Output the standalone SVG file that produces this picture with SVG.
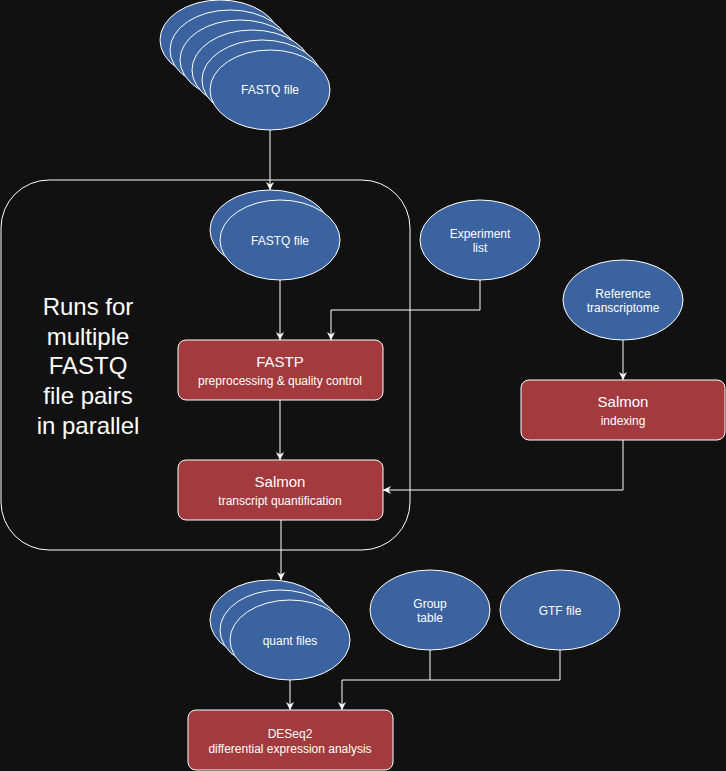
<svg xmlns="http://www.w3.org/2000/svg" width="726" height="771" viewBox="0 0 726 771">
<defs>
<style>
.el{fill:#3a63a0;stroke:#ffffff;stroke-width:1}
.bx{fill:#a33a3d;stroke:#ffffff;stroke-width:1}
.t{font-family:"Liberation Sans",Arial,sans-serif;fill:#ffffff;text-anchor:middle}
.s12{font-size:12px}
.s15{font-size:15px}
.sub{font-size:12px}
.big{font-size:24px}
.cn{fill:none;stroke:#ffffff;stroke-width:1}
</style>
<marker id="ah" markerWidth="10" markerHeight="10" refX="8" refY="4" orient="auto" markerUnits="userSpaceOnUse">
<path d="M0,0 L8,4 L0,8 L2.5,4 Z" fill="#ffffff"/>
</marker>
</defs>
<rect x="0" y="0" width="726" height="771" fill="#111111"/>

<g id="container">
<rect x="1" y="180" width="409" height="370" rx="48" ry="48" fill="none" stroke="#ffffff" stroke-width="1"/>
<text class="t big" x="88" y="315">Runs for</text>
<text class="t big" x="88" y="345">multiple</text>
<text class="t big" x="88" y="374">FASTQ</text>
<text class="t big" x="88" y="404">file pairs</text>
<text class="t big" x="88" y="434">in parallel</text>
</g>

<g id="connectors">
<path class="cn" d="M270,130 L270,190" marker-end="url(#ah)"/>
<path class="cn" d="M280,280 L280,340" marker-end="url(#ah)"/>
<path class="cn" d="M480,280 L480,310 L331,310 L331,340" marker-end="url(#ah)"/>
<path class="cn" d="M280,400 L280,460" marker-end="url(#ah)"/>
<path class="cn" d="M623,340 L623,380" marker-end="url(#ah)"/>
<path class="cn" d="M623,440 L623,490 L383,490" marker-end="url(#ah)"/>
<path class="cn" d="M281,520 L281,580" marker-end="url(#ah)"/>
<path class="cn" d="M290,680 L290,710" marker-end="url(#ah)"/>
<path class="cn" d="M430,650 L430,680"/>
<path class="cn" d="M560,650 L560,680 L342,680 L342,710" marker-end="url(#ah)"/>
</g>

<g id="fastq-top">
<ellipse class="el" cx="220" cy="40" rx="60" ry="40"/>
<ellipse class="el" cx="230" cy="50" rx="60" ry="40"/>
<ellipse class="el" cx="240" cy="60" rx="60" ry="40"/>
<ellipse class="el" cx="252" cy="70" rx="60" ry="40"/>
<ellipse class="el" cx="262" cy="80" rx="60" ry="40"/>
<ellipse class="el" cx="270" cy="90" rx="60" ry="40"/>
<text class="t s12" x="270" y="94">FASTQ file</text>
</g>

<g id="fastq-inner">
<ellipse class="el" cx="270" cy="230" rx="60" ry="40"/>
<ellipse class="el" cx="280" cy="240" rx="60" ry="40"/>
<text class="t s12" x="280" y="245">FASTQ file</text>
</g>

<g id="experiment-list">
<ellipse class="el" cx="480" cy="240" rx="60" ry="40"/>
<text class="t s12" x="480" y="238">Experiment</text>
<text class="t s12" x="480" y="252">list</text>
</g>

<g id="reference-transcriptome">
<ellipse class="el" cx="623" cy="300" rx="60" ry="40"/>
<text class="t s12" x="623" y="298">Reference</text>
<text class="t s12" x="623" y="312">transcriptome</text>
</g>

<g id="fastp">
<rect class="bx" x="178" y="340" width="205" height="60" rx="8" ry="8"/>
<text class="t s15" x="280" y="367">FASTP</text>
<text class="t sub" x="280" y="385">preprocessing &amp; quality control</text>
</g>

<g id="salmon-indexing">
<rect class="bx" x="521" y="380" width="204" height="60" rx="8" ry="8"/>
<text class="t s15" x="623" y="407">Salmon</text>
<text class="t sub" x="623" y="425">indexing</text>
</g>

<g id="salmon-quant">
<rect class="bx" x="178" y="460" width="205" height="60" rx="8" ry="8"/>
<text class="t s15" x="280" y="487">Salmon</text>
<text class="t sub" x="280" y="505">transcript quantification</text>
</g>

<g id="quant-files">
<ellipse class="el" cx="270" cy="620" rx="60" ry="40"/>
<ellipse class="el" cx="280" cy="630" rx="60" ry="40"/>
<ellipse class="el" cx="290" cy="640" rx="60" ry="40"/>
<text class="t s12" x="290" y="645">quant files</text>
</g>

<g id="group-table">
<ellipse class="el" cx="430" cy="610" rx="60" ry="40"/>
<text class="t s12" x="430" y="608">Group</text>
<text class="t s12" x="430" y="622">table</text>
</g>

<g id="gtf-file">
<ellipse class="el" cx="560" cy="610" rx="60" ry="40"/>
<text class="t s12" x="560" y="615">GTF file</text>
</g>

<g id="deseq2">
<rect class="bx" x="188" y="710" width="205" height="60" rx="8" ry="8"/>
<text class="t s12" x="290" y="738">DESeq2</text>
<text class="t s12" x="290" y="753">differential expression analysis</text>
</g>
</svg>
